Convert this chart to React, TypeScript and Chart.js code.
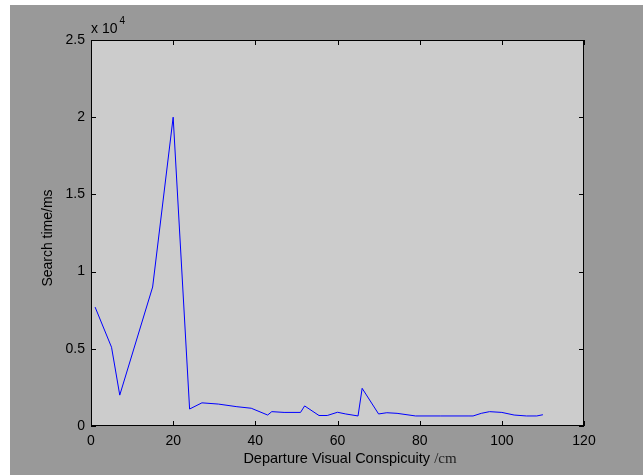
import React, { useEffect, useRef } from "react";
import { Chart, registerables } from "chart.js";

Chart.register(...registerables);

const distanceCm = [1, 5, 7, 15, 20, 24, 27, 31, 35.5, 39, 43, 44, 47, 51, 52, 55.5, 57.5, 60, 62, 65, 66, 70, 72, 74.5, 79, 85, 92, 93, 95, 97, 100, 103, 106, 108.5, 110];
const searchTimeMs = [7700, 5100, 2000, 9000, 20000, 1100, 1500, 1420, 1250, 1150, 710, 930, 880, 880, 1300, 680, 680, 890, 780, 650, 2440, 780, 860, 820, 650, 650, 650, 650, 820, 930, 880, 710, 650, 650, 730];
const xTicks = [0, 20, 40, 60, 80, 100, 120];
const yTicks = [0, 5000, 10000, 15000, 20000, 25000];
const xTitleMain = "Departure Visual Conspicuity ";
const xTitleUnit = "/cm";
const yTitle = "Search time/ms";
const exponentBase = "x 10";
const exponentPower = "4";

const SANS = '"Liberation Sans", Arial, sans-serif';
const SERIF = '"Liberation Serif", "Times New Roman", serif';

const matlabPlugin = {
  id: "matlabLook",
  beforeDraw(chart: any) {
    const { ctx, width, height, chartArea } = chart;
    ctx.save();
    ctx.fillStyle = "#ffffff";
    ctx.fillRect(0, 0, width, height);
    ctx.fillStyle = "#999999";
    ctx.fillRect(10, 5, width - 10, height - 5);
    ctx.fillStyle = "#cccccc";
    ctx.fillRect(chartArea.left, chartArea.top, chartArea.right - chartArea.left, chartArea.bottom - chartArea.top);
    ctx.restore();
  },
  afterDraw(chart: any) {
    const { ctx, chartArea } = chart;
    const xs = chart.scales.x;
    const ys = chart.scales.y;
    const { left, right, top, bottom } = chartArea;
    ctx.save();
    ctx.strokeStyle = "#000000";
    ctx.lineWidth = 1;
    ctx.strokeRect(left + 0.5, top + 0.5, right - left - 1, bottom - top - 1);
    const tl = 5;
    ctx.beginPath();
    xTicks.forEach((v) => {
      const px = Math.round(xs.getPixelForValue(v)) + 0.5;
      ctx.moveTo(px, bottom);
      ctx.lineTo(px, bottom - tl);
      ctx.moveTo(px, top);
      ctx.lineTo(px, top + tl);
    });
    yTicks.forEach((v) => {
      const py = Math.round(ys.getPixelForValue(v)) + 0.5;
      ctx.moveTo(left, py);
      ctx.lineTo(left + tl, py);
      ctx.moveTo(right, py);
      ctx.lineTo(right - tl, py);
    });
    ctx.stroke();

    // x-axis title with mixed fonts
    ctx.fillStyle = "#000000";
    ctx.textBaseline = "alphabetic";
    ctx.textAlign = "left";
    ctx.font = `14.5px ${SANS}`;
    const w1 = ctx.measureText(xTitleMain).width;
    ctx.font = `15px ${SERIF}`;
    const w2 = ctx.measureText(xTitleUnit).width;
    const cx = 350;
    const startX = cx - (w1 + w2) / 2;
    ctx.font = `14.5px ${SANS}`;
    ctx.fillText(xTitleMain, startX, 463);
    ctx.font = `15px ${SERIF}`;
    ctx.fillStyle = "#222222";
    ctx.fillText(xTitleUnit, startX + w1, 463);

    // y-axis title
    ctx.fillStyle = "#000000";
    ctx.save();
    ctx.translate(48, 238);
    ctx.rotate(-Math.PI / 2);
    ctx.font = `14px ${SANS}`;
    ctx.textAlign = "center";
    ctx.textBaseline = "middle";
    ctx.fillText(yTitle, 0, 0);
    ctx.restore();

    // exponent label
    ctx.font = `14px ${SANS}`;
    ctx.textAlign = "left";
    ctx.textBaseline = "alphabetic";
    ctx.fillText(exponentBase, left, 33);
    const wb = ctx.measureText(exponentBase).width;
    ctx.font = `10px ${SANS}`;
    ctx.fillText(exponentPower, left + wb + 2, 24);
    ctx.restore();
  },
};

export default function App() {
  const ref = useRef<HTMLCanvasElement>(null);
  useEffect(() => {
    if (!ref.current) return;
    const chart = new Chart(ref.current, {
      type: "line",
      data: {
        datasets: [
          {
            data: distanceCm.map((x, i) => ({ x, y: searchTimeMs[i] })),
            borderColor: "#0000ff",
            borderWidth: 1,
            pointRadius: 0,
            tension: 0,
            fill: false,
          },
        ],
      },
      options: {
        responsive: false,
        animation: false,
        events: [],
        layout: { padding: { left: 0, top: 40, right: 59, bottom: 0 } },
        plugins: { legend: { display: false }, tooltip: { enabled: false } },
        scales: {
          x: {
            type: "linear",
            min: 0,
            max: 120,
            afterBuildTicks: (s: any) => {
              s.ticks = xTicks.map((v) => ({ value: v }));
            },
            afterFit: (s: any) => {
              s.height = 49;
            },
            grid: { display: false, drawTicks: false },
            border: { display: false },
            ticks: {
              color: "#000000",
              font: { family: SANS, size: 14 },
              padding: 7,
              maxRotation: 0,
            },
          },
          y: {
            type: "linear",
            min: 0,
            max: 25000,
            afterBuildTicks: (s: any) => {
              s.ticks = yTicks.map((v) => ({ value: v }));
            },
            afterFit: (s: any) => {
              s.width = 91;
            },
            grid: { display: false, drawTicks: false },
            border: { display: false },
            ticks: {
              color: "#000000",
              font: { family: SANS, size: 14 },
              padding: 6,
              callback: (v: any) => String(Number(v) / 10000),
            },
          },
        },
      },
      plugins: [matlabPlugin],
    });
    return () => chart.destroy();
  }, []);
  return (
    <div style={{ position: "absolute", left: 0, top: 0, width: 643, height: 475 }}>
      <canvas ref={ref} width={643} height={475} style={{ display: "block", width: 643, height: 475 }} />
    </div>
  );
}
